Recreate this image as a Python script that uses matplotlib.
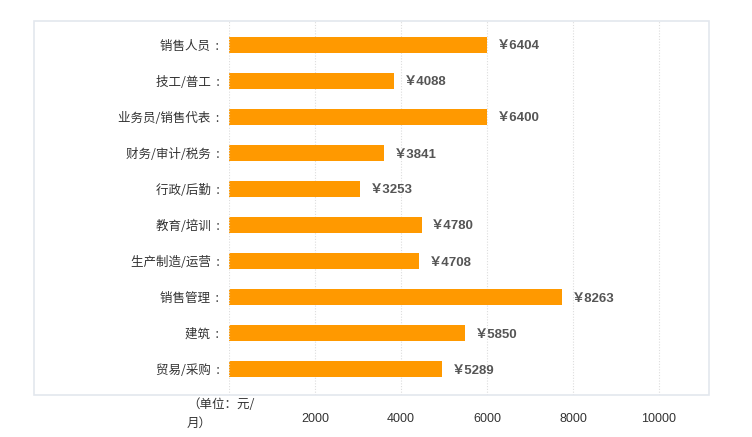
import matplotlib
matplotlib.use('Agg')
import matplotlib.pyplot as plt
from matplotlib.patches import Rectangle
import numpy as np

plt.rcParams['font.family'] = ['Noto Sans CJK SC', 'DejaVu Sans']

jobs = ['销售人员', '技工/普工', '业务员/销售代表', '财务/审计/税务', '行政/后勤',
        '教育/培训', '生产制造/运营', '销售管理', '建筑', '贸易/采购']
salary = [6404, 4088, 6400, 3841, 3253, 4780, 4708, 8263, 5850, 5289]
tick_labels = ['2000', '4000', '6000', '8000', '10000']

W, H = 752, 437
fig = plt.figure(figsize=(W / 100, H / 100), dpi=100)

# outer frame (left 34, right 709, top 21, bottom 395)
fig.patches.append(Rectangle((34 / W, 1 - 395 / H), (709 - 34) / W, (395 - 21) / H,
                             transform=fig.transFigure, fill=False,
                             edgecolor='#e3e7ee', linewidth=1.2))

ax = fig.add_axes([229 / W, 1 - 395 / H, (709 - 229) / W, (395 - 21) / H])
y = np.arange(len(jobs))
ax.barh(y, salary, height=0.44, color='#ff9900')

ax.set_ylim(len(jobs) - 1 + 26 / 36, -24 / 36)
ax.set_xlim(0, 11911)

for yi, v in zip(y, salary):
    ax.annotate('￥' + str(v), (v, yi), xytext=(7, 0), textcoords='offset points',
                va='center_baseline', ha='left', fontsize=9.5, fontweight='bold',
                color='#555555', family=['Liberation Sans', 'Noto Sans CJK SC'])

ax.set_yticks(y)
ax.set_yticklabels([j + '  :' for j in jobs], fontsize=9, color='#333333')
ax.tick_params(axis='y', length=0, pad=7)

step = 2134
ax.set_xticks([step * (i + 1) for i in range(len(tick_labels))])
ax.set_xticklabels(tick_labels, fontsize=9, color='#333333',
                   family=['Liberation Sans', 'DejaVu Sans'])
ax.tick_params(axis='x', length=0, pad=13)
ax.grid(axis='x', color='#dddddd', linestyle=(0, (1, 1.5)), linewidth=0.8)
ax.axvline(0, color='#dddddd', linestyle=(0, (1, 1.5)), linewidth=0.8)
ax.set_axisbelow(True)
for s in ax.spines.values():
    s.set_visible(False)

fig.text(187 / W, 1 - 405 / H, '（单位：元/', fontsize=9, color='#333333',
         ha='left', va='center')
fig.text(187 / W, 1 - 423 / H, '月）', fontsize=9, color='#333333',
         ha='left', va='center')

fig.savefig('out.png', dpi=100)
